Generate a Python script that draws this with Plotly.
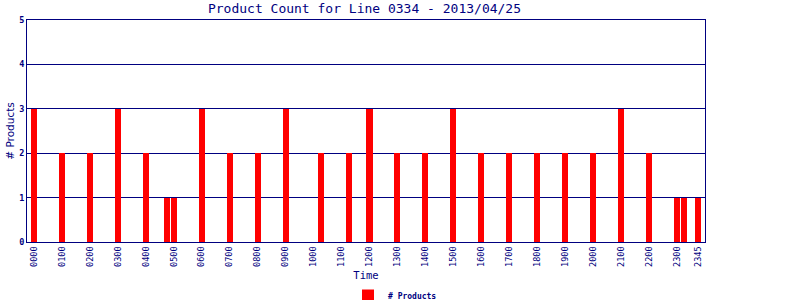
import plotly.graph_objects as go

# Data
times = ["0000", "0100", "0200", "0300", "0400", "0445", "0500", "0600", "0700",
         "0800", "0900", "1015", "1115", "1200", "1300", "1400", "1500", "1600",
         "1700", "1800", "1900", "2000", "2100", "2200", "2300", "2315", "2345"]
counts = [3, 2, 2, 3, 2, 1, 1, 3, 2,
          2, 3, 2, 2, 3, 2, 2, 3, 2,
          2, 2, 2, 2, 3, 2, 1, 1, 1]
tick_labels = ["0000", "0100", "0200", "0300", "0400", "0500", "0600", "0700",
               "0800", "0900", "1000", "1100", "1200", "1300", "1400", "1500",
               "1600", "1700", "1800", "1900", "2000", "2100", "2200", "2300", "2345"]


def to_hours(t):
    return int(t[:2]) + int(t[2:]) / 60.0


x_vals = [to_hours(t) for t in times]
tick_vals = [to_hours(t) for t in tick_labels]

NAVY = "#000080"
MONO = "DejaVu Sans Mono"

fig = go.Figure()
fig.add_trace(go.Bar(
    x=x_vals, y=counts, width=0.215, name="# Products",
    marker=dict(color="#ff0000", line=dict(width=0)),
    showlegend=True,
))

fig.update_layout(
    width=800, height=300,
    margin=dict(l=27, r=95, t=20, b=58, pad=0, autoexpand=False),
    paper_bgcolor="white", plot_bgcolor="white",
    title=dict(text="Product Count for Line 0334 - 2013/04/25",
               x=364.5 / 800, xanchor="center", xref="container",
               y=1 - 8.5 / 300, yanchor="middle", yref="container",
               font=dict(family=MONO, size=13, color=NAVY)),
    showlegend=True,
    legend=dict(orientation="h", xref="container", yref="container",
                x=395 / 800, xanchor="center", y=1 - 295.5 / 300, yanchor="middle",
                font=dict(family=MONO, size=8, color=NAVY, weight="bold"),
                bgcolor="rgba(0,0,0,0)", itemwidth=30),
    bargap=0,
)

fig.update_xaxes(
    range=[-0.25, 24.0], tickmode="array", tickvals=tick_vals, ticktext=tick_labels,
    tickangle=-90, tickfont=dict(family=MONO, size=8.5, color=NAVY),
    showgrid=False, zeroline=False, showline=True, linecolor=NAVY, linewidth=1,
    mirror=True, ticks="", automargin=False,
    title=dict(text="Time", font=dict(family=MONO, size=10.5, color=NAVY), standoff=6),
)
fig.update_yaxes(
    range=[0, 5], tickmode="array", tickvals=[0, 1, 2, 3, 4, 5],
    tickfont=dict(family=MONO, size=8.5, color=NAVY, weight="bold"),
    showgrid=True, gridcolor=NAVY, gridwidth=1, zeroline=False,
    showline=True, linecolor=NAVY, linewidth=1, mirror=True, ticks="", automargin=False,
    title=dict(text="# Products", font=dict(family="DejaVu Sans", size=10.5, color=NAVY),
               standoff=2),
)

fig.write_html("out.html")
